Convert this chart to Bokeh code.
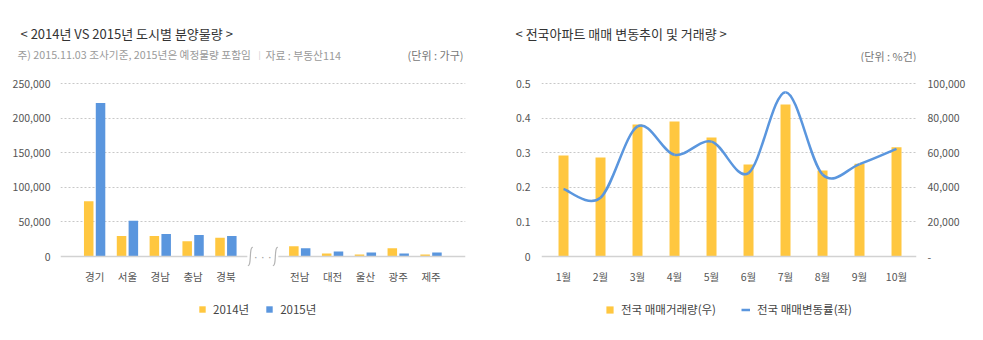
from bokeh.plotting import figure
from bokeh.layouts import row, column
from bokeh.models import (FixedTicker, NumeralTickFormatter, Range1d, LinearAxis,
                          Legend, LegendItem, Span)
from bokeh.core.properties import value
from bokeh.embed import file_html
from bokeh.resources import INLINE

FONT = "Noto Sans CJK KR"
YELLOW = "#FFC740"
BLUE = "#5A96DE"
GRID = "#C8C8C8"
BASE = "#D2D2D2"
TICK = "#555555"
TITLE = "#333333"
SUB = "#9A9A9A"

# ---------------- data: left chart ----------------
cities_front = ["경기", "서울", "경남", "충남", "경북"]
cities_back = ["전남", "대전", "울산", "광주", "제주"]
supply_2014 = [80000, 29500, 29500, 22000, 27000, 14700, 4400, 2900, 11800, 2900]
supply_2015 = [222000, 51500, 32500, 31000, 29500, 11800, 7400, 5900, 4400, 5900]
year_labels = ["2014년", "2015년"]
supply_ticks = [0, 50000, 100000, 150000, 200000, 250000]

# ---------------- data: right chart ----------------
months = ["1월", "2월", "3월", "4월", "5월", "6월", "7월", "8월", "9월", "10월"]
trade_volume = [58400, 57200, 76300, 78000, 68800, 53200, 87900, 49700, 53600, 63200]
price_change = [0.195, 0.17, 0.376, 0.294, 0.332, 0.241, 0.475, 0.237, 0.267, 0.311]
rate_ticks = [0, 0.1, 0.2, 0.3, 0.4, 0.5]
volume_ticks = [0, 20000, 40000, 60000, 80000, 100000]
right_legend = ["전국 매매거래량(우)", "전국 매매변동률(좌)"]

# texts
left_title = "< 2014년 VS 2015년 도시별 분양물량 >"
left_note = "주) 2015.11.03 조사기준, 2015년은 예정물량 포함임"
left_source = "자료 : 부동산114"
left_unit = "(단위 : 가구)"
right_title = "< 전국아파트 매매 변동추이 및 거래량 >"
right_unit = "(단위 : %건)"

W = 983
HEAD_H = 62
CHART_H = 234
FOOT_H = 340 - HEAD_H - CHART_H
TOP = 8
BELOW0 = 12                         # px of frame kept below the zero line
BOTTOM = 40 - BELOW0
ABOVE0 = CHART_H - TOP - 40         # px of frame above the zero line
SCALE_PX = 173                      # px between 0 and top tick


def yrange_for(top_tick):
    unit = top_tick / SCALE_PX
    return Range1d(-BELOW0 * unit, ABOVE0 * unit)


def style_common(p):
    p.outline_line_color = None
    p.background_fill_color = "white"
    p.border_fill_color = "white"
    p.xgrid.grid_line_color = None
    p.ygrid.grid_line_color = GRID
    p.ygrid.grid_line_dash = "2 2"
    p.ygrid.grid_line_width = 1
    for ax in p.axis:
        ax.axis_line_color = None
        ax.major_tick_line_color = None
        ax.minor_tick_line_color = None
        ax.major_tick_out = 0
        ax.major_tick_in = 0
        ax.minor_tick_out = 0
        ax.minor_tick_in = 0
        ax.major_label_text_font = FONT
        ax.major_label_text_font_size = "10.5px"
        ax.major_label_text_color = TICK


def blank_figure(width, height, yflip=True):
    p = figure(width=width, height=height, x_range=Range1d(0, width),
               y_range=Range1d(height, 0) if yflip else Range1d(0, height),
               output_backend="svg", toolbar_location=None,
               x_axis_location=None, y_axis_location=None,
               min_border=0, min_border_left=0, min_border_right=0,
               min_border_top=0, min_border_bottom=0)
    p.outline_line_color = None
    p.grid.grid_line_color = None
    p.background_fill_color = "white"
    p.border_fill_color = "white"
    return p


# ================= HEADER =================
hd = blank_figure(W, HEAD_H)


def htext(x, y, txt, size, color, align="left"):
    hd.text(x=[x], y=[y], text=[txt], text_font=value(FONT), text_font_size=size,
            text_color=color, text_align=align, text_baseline="middle")


htext(20, 33, left_title, "13px", TITLE)
htext(17, 54, left_note, "10.7px", SUB)
htext(258, 54, "|", "8px", "#C8C8C8")
htext(265, 54, left_source, "10.8px", SUB)
htext(463, 54, left_unit, "11px", "#777777", align="right")
htext(515, 33, right_title, "13px", TITLE)
htext(916, 55, right_unit, "11px", "#777777", align="right")

# ================= LEFT CHART =================
W1 = 495
L1 = 60
R1 = 30
GAP = 1.25
positions = list(range(len(cities_front))) + [i + len(cities_front) + GAP for i in range(len(cities_back))]
all_cities = cities_front + cities_back
OFF = 0.18
BW = 0.29
XR1 = Range1d(-1.04, 11.3)
YR1 = yrange_for(supply_ticks[-1])

p1 = figure(width=W1, height=CHART_H, x_range=XR1, y_range=YR1,
            output_backend="svg", toolbar_location=None,
            min_border_left=L1, min_border_right=R1, min_border_top=TOP, min_border_bottom=BOTTOM)

r14 = p1.vbar(x=[x - OFF for x in positions], top=supply_2014, width=BW,
              fill_color=YELLOW, line_color=None)
r15 = p1.vbar(x=[x + OFF for x in positions], top=supply_2015, width=BW,
              fill_color=BLUE, line_color=None)

p1.xaxis.ticker = FixedTicker(ticks=positions)
p1.xaxis.major_label_overrides = {x: n for x, n in zip(positions, all_cities)}
p1.xaxis.major_label_standoff = 11 - BELOW0 if 11 - BELOW0 > 0 else 0
p1.yaxis.ticker = FixedTicker(ticks=supply_ticks)
p1.yaxis.formatter = NumeralTickFormatter(format="0,0")
p1.yaxis.major_label_standoff = 10
p1.ygrid.ticker = FixedTicker(ticks=supply_ticks[1:])
style_common(p1)

# baseline with axis-break marks (sizes expressed in screen pixels)
px_x = (XR1.end - XR1.start) / (W1 - L1 - R1)
px_y = supply_ticks[-1] / SCALE_PX
bc = (positions[len(cities_front) - 1] + positions[len(cities_front)]) / 2
half = 12.5 * px_x
marks = [bc - half, bc + half]
p1.segment(x0=[XR1.start, marks[1] + 3 * px_x], x1=[marks[0] - 3 * px_x, XR1.end],
           y0=[0, 0], y1=[0, 0], line_color=BASE, line_width=1.5)
p1.bezier(x0=[m + 2.5 * px_x for m in marks], y0=[9 * px_y] * 2,
          x1=[m - 2.5 * px_x for m in marks], y1=[-9 * px_y] * 2,
          cx0=[m - 1.5 * px_x for m in marks], cy0=[10 * px_y] * 2,
          cx1=[m + 1.5 * px_x for m in marks], cy1=[-10 * px_y] * 2,
          line_color="#B4B4B4", line_width=1.2)
p1.text(x=[bc], y=[0], text=["· · ·"], text_font=value("DejaVu Sans"), y_offset=1,
        text_font_size="11px", text_color="#A0A0A0", text_align="center", text_baseline="middle")

# ================= RIGHT CHART =================
W2 = W - W1
L2 = 541 - W1
R2 = W - 916
idx = list(range(len(months)))

p2 = figure(width=W2, height=CHART_H, x_range=Range1d(-0.595, 9.54),
            y_range=yrange_for(rate_ticks[-1]),
            output_backend="svg", toolbar_location=None,
            min_border_left=L2, min_border_right=R2, min_border_top=TOP, min_border_bottom=BOTTOM)
p2.extra_y_ranges = {"vol": yrange_for(volume_ticks[-1])}

p2.vbar(x=idx, top=trade_volume, width=0.27, fill_color=YELLOW, line_color=None,
        y_range_name="vol")

# smoothed line (Catmull-Rom as cubic Bezier segments through the data points)
n = len(price_change)
x0s, y0s, x1s, y1s, cx0, cy0, cx1, cy1 = [], [], [], [], [], [], [], []
for i in range(n - 1):
    a = max(i - 1, 0)
    d = min(i + 2, n - 1)
    x0s.append(idx[i]); y0s.append(price_change[i])
    x1s.append(idx[i + 1]); y1s.append(price_change[i + 1])
    cx0.append(idx[i] + (idx[i + 1] - idx[a]) / 6)
    cy0.append(price_change[i] + (price_change[i + 1] - price_change[a]) / 6)
    cx1.append(idx[i + 1] - (idx[d] - idx[i]) / 6)
    cy1.append(price_change[i + 1] - (price_change[d] - price_change[i]) / 6)
p2.bezier(x0=x0s, y0=y0s, x1=x1s, y1=y1s, cx0=cx0, cy0=cy0, cx1=cx1, cy1=cy1,
          line_color=BLUE, line_width=2.5)

p2.xaxis.ticker = FixedTicker(ticks=idx)
p2.xaxis.major_label_overrides = {i: m for i, m in zip(idx, months)}
p2.xaxis.major_label_standoff = 0
p2.yaxis.ticker = FixedTicker(ticks=rate_ticks)
p2.yaxis.formatter = NumeralTickFormatter(format="0.0")
p2.yaxis.major_label_overrides = {0: "0"}
p2.yaxis.major_label_standoff = 11
p2.ygrid.ticker = FixedTicker(ticks=rate_ticks[1:])

ax_r = LinearAxis(y_range_name="vol", ticker=FixedTicker(ticks=volume_ticks),
                  formatter=NumeralTickFormatter(format="0,0"),
                  major_label_overrides={0: "-"}, major_label_standoff=11)
p2.add_layout(ax_r, "right")
style_common(p2)

p2.add_layout(Span(location=0, dimension="width", line_color=BASE, line_width=1.5))

# ================= FOOTER (legends) =================
ft = blank_figure(W, FOOT_H, yflip=False)
# legend swatches: hidden proxy renderers carrying each series' style
lg14 = ft.vbar(x=[0], top=[0], width=1, fill_color=YELLOW, line_color=None, visible=False)
lg15 = ft.vbar(x=[0], top=[0], width=1, fill_color=BLUE, line_color=None, visible=False)
lgvol = ft.vbar(x=[0], top=[0], width=1, fill_color=YELLOW, line_color=None, visible=False)
lgrate = ft.line(x=[0, 0], y=[0, 0], line_color=BLUE, line_width=2.5, visible=False)

LEG_Y = FOOT_H - (307 - HEAD_H - CHART_H) - 10


def make_legend(items, x, spacing, gw):
    return Legend(items=items, orientation="horizontal", location=(x, LEG_Y),
                  glyph_width=gw, glyph_height=gw, label_standoff=7, spacing=spacing,
                  padding=0, margin=0, border_line_color=None, background_fill_alpha=0,
                  inactive_fill_alpha=0,
                  label_text_font=FONT, label_text_font_size="11.5px",
                  label_text_color="#444444")


ft.add_layout(make_legend([LegendItem(label=year_labels[0], renderers=[lg14]),
                           LegendItem(label=year_labels[1], renderers=[lg15])], 198, 16, 8))
ft.add_layout(make_legend([LegendItem(label=right_legend[0], renderers=[lgvol]),
                           LegendItem(label=right_legend[1], renderers=[lgrate])], 605, 25, 9))

layout = column(hd, row(p1, p2, spacing=0), ft, spacing=0)
open("out.html", "w").write(file_html(layout, INLINE))
